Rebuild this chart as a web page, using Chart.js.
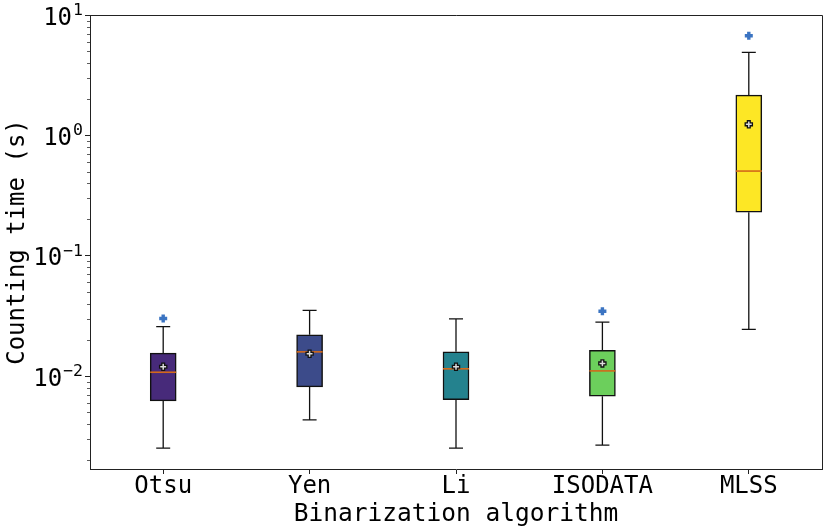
<!DOCTYPE html>
<html>
<head>
<meta charset="utf-8">
<script src="https://cdn.jsdelivr.net/npm/chart.js@4/dist/chart.umd.min.js"></script>
<style>
  html, body { margin: 0; padding: 0; background: #ffffff; }
  #wrap { width: 830px; height: 532px; position: relative; }
</style>
</head>
<body>
<div id="wrap"><canvas id="c" width="830" height="532"></canvas></div>
<script>
// ---- data ----
const categories = ['Otsu', 'Yen', 'Li', 'ISODATA', 'MLSS'];
const q1Values = [0.00622, 0.00813, 0.00638, 0.00681, 0.230];
const q3Values = [0.01549, 0.0220, 0.0159, 0.01634, 2.16];
const medianValues = [0.01076, 0.01589, 0.01149, 0.01104, 0.505];
const meanValues = [0.01194, 0.01531, 0.01194, 0.01274, 1.234];
const whiskerLowValues = [0.00252, 0.00432, 0.00252, 0.00267, 0.0244];
const whiskerHighValues = [0.0258, 0.0351, 0.0299, 0.0281, 4.90];
const outlierValues = [[0.0301], [], [], [0.0346], [6.73]];
const boxColors = ['#472a7a', '#3c4b8a', '#24828e', '#6ccf5c', '#fde725'];
const yTickValues = [0.01, 0.1, 1, 10];
const yTickBase = ['10', '10', '10', '10'];
const yTickExponents = ['−2', '−1', '0', '1'];
const yMin = 0.00169;
const yMax = 10;

const FONT = "'DejaVu Sans Mono', monospace";

function plusPath(ctx, x, y, half, arm) {
  ctx.beginPath();
  ctx.moveTo(x - arm, y - half);
  ctx.lineTo(x + arm, y - half);
  ctx.lineTo(x + arm, y - arm);
  ctx.lineTo(x + half, y - arm);
  ctx.lineTo(x + half, y + arm);
  ctx.lineTo(x + arm, y + arm);
  ctx.lineTo(x + arm, y + half);
  ctx.lineTo(x - arm, y + half);
  ctx.lineTo(x - arm, y + arm);
  ctx.lineTo(x - half, y + arm);
  ctx.lineTo(x - half, y - arm);
  ctx.lineTo(x - arm, y - arm);
  ctx.closePath();
}

const boxPlugin = {
  id: 'boxExtras',
  afterDatasetsDraw(chart) {
    const ctx = chart.ctx;
    const xs = chart.scales.x, ys = chart.scales.y;
    const meta = chart.getDatasetMeta(0);
    ctx.save();
    categories.forEach((c, i) => {
      const x = xs.getPixelForValue(i);
      const bar = meta.data[i];
      const bw = bar.width;
      const yQ1 = ys.getPixelForValue(q1Values[i]);
      const yQ3 = ys.getPixelForValue(q3Values[i]);
      const yLo = ys.getPixelForValue(whiskerLowValues[i]);
      const yHi = ys.getPixelForValue(whiskerHighValues[i]);
      const capHalf = bw / 4 + 0.5;
      ctx.strokeStyle = '#111';
      ctx.lineWidth = 1.3;
      ctx.beginPath();
      ctx.moveTo(x, yQ1); ctx.lineTo(x, yLo);
      ctx.moveTo(x, yQ3); ctx.lineTo(x, yHi);
      ctx.moveTo(x - capHalf, yLo); ctx.lineTo(x + capHalf, yLo);
      ctx.moveTo(x - capHalf, yHi); ctx.lineTo(x + capHalf, yHi);
      ctx.stroke();
      // median
      const yMed = ys.getPixelForValue(medianValues[i]);
      ctx.strokeStyle = '#d2691a';
      ctx.lineWidth = 1.6;
      ctx.beginPath();
      ctx.moveTo(x - bw / 2, yMed); ctx.lineTo(x + bw / 2, yMed);
      ctx.stroke();
      // mean marker
      const yMean = ys.getPixelForValue(meanValues[i]);
      plusPath(ctx, x, yMean, 3.6, 1.4);
      ctx.fillStyle = '#dddddd';
      ctx.fill();
      ctx.strokeStyle = '#111';
      ctx.lineWidth = 1.3;
      ctx.stroke();
      // outliers
      outlierValues[i].forEach(v => {
        const yo = ys.getPixelForValue(v);
        plusPath(ctx, x, yo, 4, 1.7);
        ctx.fillStyle = '#3b74c2';
        ctx.fill();
      });
    });
    // frame (top / right spines)
    const a = chart.chartArea;
    ctx.strokeStyle = '#222';
    ctx.lineWidth = 1;
    ctx.beginPath();
    ctx.moveTo(a.left, a.top + 0.5); ctx.lineTo(a.right + 0.5, a.top + 0.5);
    ctx.lineTo(a.right + 0.5, a.bottom);
    ctx.stroke();
    // minor log ticks
    ctx.strokeStyle = '#333';
    ctx.lineWidth = 0.8;
    ctx.beginPath();
    for (let d = -3; d <= 1; d++) {
      for (let m = 2; m <= 9; m++) {
        const v = m * Math.pow(10, d);
        if (v < yMin || v > yMax) continue;
        const y = Math.round(ys.getPixelForValue(v)) + 0.5;
        ctx.moveTo(a.left - 3, y); ctx.lineTo(a.left, y);
      }
    }
    ctx.stroke();
    // y tick labels with superscript exponents
    ctx.fillStyle = '#000';
    ctx.textBaseline = 'alphabetic';
    ctx.textAlign = 'left';
    const rightEdge = a.left - 7;
    yTickValues.forEach((v, i) => {
      const y = ys.getPixelForValue(v);
      ctx.font = "16.5px " + FONT;
      const expW = ctx.measureText(yTickExponents[i]).width;
      ctx.font = "24px " + FONT;
      const baseW = ctx.measureText(yTickBase[i]).width;
      const x0 = rightEdge - expW - baseW - 1;
      ctx.fillText(yTickBase[i], x0, y + 9.5);
      ctx.font = "16.5px " + FONT;
      ctx.fillText(yTickExponents[i], x0 + baseW + 1, y);
    });
    ctx.restore();
  }
};

new Chart(document.getElementById('c'), {
  type: 'bar',
  data: {
    labels: categories,
    datasets: [{
      data: categories.map((c, i) => [q1Values[i], q3Values[i]]),
      backgroundColor: boxColors,
      borderColor: '#111',
      borderWidth: 1.5,
      borderSkipped: false,
      barThickness: 26
    }]
  },
  options: {
    responsive: false,
    animation: false,
    events: [],
    layout: { padding: { left: 0, right: 8, top: 15, bottom: 0 } },
    plugins: { legend: { display: false }, tooltip: { enabled: false } },
    scales: {
      x: {
        type: 'category',
        offset: true,
        grid: { offset: false, drawOnChartArea: false, drawTicks: true, tickLength: 5, color: '#222' },
        border: { display: true, color: '#222', width: 1 },
        ticks: { color: '#000', font: { family: FONT, size: 24 }, padding: -2, maxRotation: 0, autoSkip: false },
        title: { display: true, text: 'Binarization algorithm', color: '#000', font: { family: FONT, size: 24.5 }, padding: { top: 0, bottom: 3 } },
        afterFit(scale) { scale.height = 63; }
      },
      y: {
        type: 'logarithmic',
        min: yMin,
        max: yMax,
        afterBuildTicks(scale) { scale.ticks = yTickValues.map(v => ({ value: v })); },
        grid: { drawOnChartArea: false, drawTicks: true, tickLength: 5, color: '#222' },
        border: { display: true, color: '#222', width: 1 },
        ticks: { color: '#000', font: { family: FONT, size: 1 }, padding: 3, autoSkip: false, callback: () => '' },
        title: { display: true, text: 'Counting time (s)', color: '#000', font: { family: FONT, size: 24 }, padding: { top: 3, bottom: 0 } },
        afterFit(scale) { scale.width = 90; }
      }
    }
  },
  plugins: [boxPlugin]
});
</script>
</body>
</html>
